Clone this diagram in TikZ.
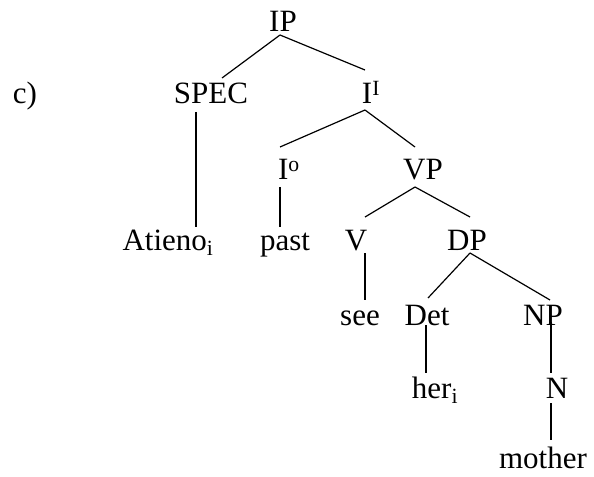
\documentclass[tikz,border=0pt]{standalone}
\usepackage{fontspec}
\setmainfont{Liberation Serif}
\begin{document}
\begin{tikzpicture}[x=1bp,y=-1bp,
  lbl/.style={anchor=base,inner sep=0pt,font=\fontsize{31bp}{36bp}\selectfont},
  edge/.style={line width=1.2bp}]
\path[use as bounding box] (0,0) rectangle (594,477);
\node[lbl] (c) at (25,104) {c)};
\node[lbl] (IP) at (283,32) {IP};
\node[lbl] (SPEC) at (211,104) {SPEC};
\node[lbl] (Ibar) at (371,104) {I\textsuperscript{I}};
\node[lbl] (I0) at (289,180) {I\textsuperscript{o}};
\node[lbl] (VP) at (423,180) {VP};
\node[lbl] (Atieno) at (168,250) {Atieno\textsubscript{i}};
\node[lbl] (past) at (285,250) {past};
\node[lbl] (V) at (356,250) {V};
\node[lbl] (DP) at (467,250) {DP};
\node[lbl] (see) at (360,325) {see};
\node[lbl] (Det) at (427,325) {Det};
\node[lbl] (NP) at (543,325) {NP};
\node[lbl] (her) at (435,398) {her\textsubscript{i}};
\node[lbl] (N) at (557,398) {N};
\node[lbl] (mother) at (543,468) {mother};
\draw[edge] ([shift={(-3,3)}]IP.base) -- ([shift={(11,-26)}]SPEC.base);
\draw[edge] ([shift={(-3,3)}]IP.base) -- ([shift={(-6,-34)}]Ibar.base);
\draw[edge] ([shift={(-15,8)}]SPEC.base) -- ([shift={(28,-23)}]Atieno.base);
\draw[edge] ([shift={(-6,6)}]Ibar.base) -- ([shift={(-9,-33)}]I0.base);
\draw[edge] ([shift={(-6,6)}]Ibar.base) -- ([shift={(-8,-33)}]VP.base);
\draw[edge] ([shift={(-9,7)}]I0.base) -- ([shift={(-5,-23)}]past.base);
\draw[edge] ([shift={(-8,7)}]VP.base) -- ([shift={(9,-33)}]V.base);
\draw[edge] ([shift={(-8,7)}]VP.base) -- ([shift={(3,-33)}]DP.base);
\draw[edge] ([shift={(9,3)}]V.base) -- ([shift={(5,-25)}]see.base);
\draw[edge] ([shift={(3,3)}]DP.base) -- ([shift={(1,-27)}]Det.base);
\draw[edge] ([shift={(3,3)}]DP.base) -- ([shift={(7,-25)}]NP.base);
\draw[edge] ([shift={(-1,0)}]Det.base) -- ([shift={(-9,-25)}]her.base);
\draw[edge] ([shift={(8,-3)}]NP.base) -- ([shift={(-6,-25)}]N.base);
\draw[edge] ([shift={(-6,5)}]N.base) -- ([shift={(8,-28)}]mother.base);
\end{tikzpicture}
\end{document}
